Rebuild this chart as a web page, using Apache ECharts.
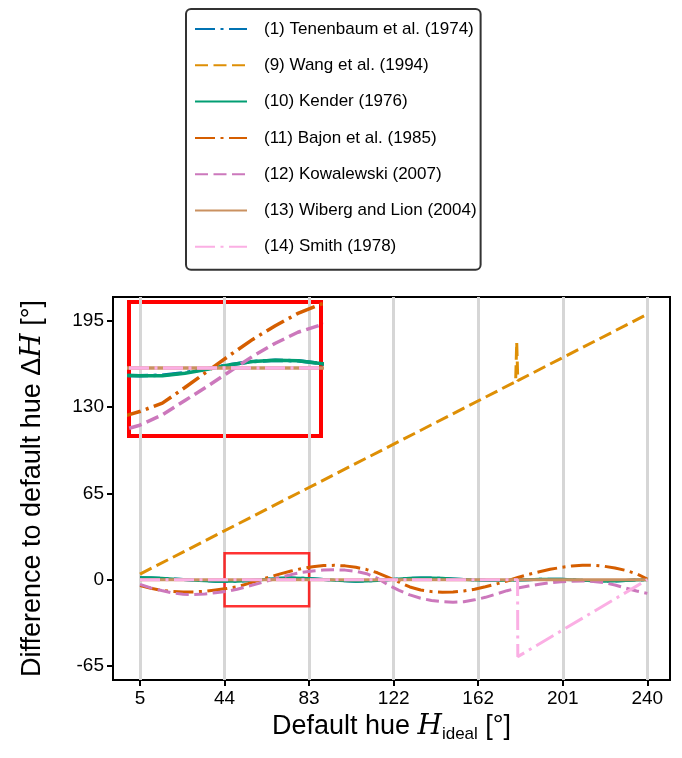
<!DOCTYPE html>
<html><head><meta charset="utf-8">
<script src="https://cdn.jsdelivr.net/npm/echarts@6/dist/echarts.min.js"></script>
<style>html,body{margin:0;padding:0;background:#fff}#c{width:682px;height:758px}</style>
</head><body><div id="c"></div>
<script>
// ---------- data ----------
const seriesNames = [
  '(1) Tenenbaum et al. (1974)',
  '(9) Wang et al. (1994)',
  '(10) Kender (1976)',
  '(11) Bajon et al. (1985)',
  '(12) Kowalewski (2007)',
  '(13) Wiberg and Lion (2004)',
  '(14) Smith (1978)'
];
const xTickValues = [5, 44.17, 83.33, 122.5, 161.67, 200.83, 240];
const xTickLabels = ['5', '44', '83', '122', '162', '201', '240'];
const yTickValues = [-65, 0, 65, 130, 195];
const yTickLabels = ['-65', '0', '65', '130', '195'];

const hueX = [5, 10, 15, 20, 25, 30, 35, 40, 45, 50, 55, 60, 65, 70, 75, 80, 85, 90, 95, 100,
  105, 110, 115, 120, 125, 130, 135, 140, 145, 150, 155, 160, 165, 170, 175, 180, 185, 190, 195, 200,
  205, 210, 215, 220, 225, 230, 235, 240];
const tenenbaumY = [1.4, 1.3, 1.0, 0.6, 0.1, -0.4, -0.8, -1.1, -1.2, -1.1, -0.7, -0.1, 0.5, 1.0, 1.2, 1.1, 0.7, 0.1, -0.5, -0.9,
  -1.1, -1.0, -0.6, 0.0, 0.6, 1.0, 1.2, 1.2, 1.0, 0.6, 0.2, -0.2, -0.5, -0.6, -0.5, -0.3, 0.0, 0.3, 0.4, 0.3,
  0.0, -0.5, -0.9, -1.1, -1.0, -0.7, -0.3, 0.0];
const kenderY = [1.5, 1.4, 1.1, 0.6, 0.1, -0.4, -0.8, -1.1, -1.2, -1.2, -0.8, -0.2, 0.5, 1.0, 1.2, 1.1, 0.7, 0.1, -0.5, -0.9,
  -1.1, -1.0, -0.6, 0.0, 0.6, 1.0, 1.2, 1.2, 1.0, 0.6, 0.2, -0.2, -0.5, -0.6, -0.5, -0.3, 0.0, 0.3, 0.4, 0.3,
  0.0, -0.5, -0.9, -1.1, -1.0, -0.7, -0.3, 0.0];
const bajonY = [-4.5, -6.5, -8.0, -8.8, -9.2, -9.2, -8.7, -7.7, -6.7, -5.4, -3.0, -0.5, 2.0, 4.4, 6.5, 8.4, 9.8, 10.6, 10.8, 10.4,
  9.3, 7.6, 5.2, 1.8, -1.8, -5.5, -7.8, -9.0, -9.5, -9.3, -8.5, -7.2, -5.3, -3.3, -1.0, 1.6, 4.0, 6.0, 7.8, 9.2,
  10.3, 10.9, 10.8, 10.1, 8.8, 7.0, 4.4, 0.5];
const kowalewskiY = [-3.5, -6.2, -8.2, -10.0, -11.0, -11.2, -10.8, -9.8, -8.8, -7.2, -5.0, -2.8, -0.5, 1.8, 3.8, 5.5, 6.6, 7.2, 7.4, 7.2,
  6.3, 4.5, 1.0, -4.0, -8.0, -11.5, -14.0, -15.7, -16.6, -17.0, -16.6, -15.2, -13.3, -10.8, -8.3, -6.3, -4.8, -3.5, -2.3, -1.5,
  -1.1, -1.0, -1.3, -2.3, -4.0, -6.3, -8.5, -10.3];
const wangX = [5, 179, 179.5, 180, 240];
const wangY = [4.2, 149.2, 179, 150.0, 200];
const wibergX = [5, 240];
const wibergY = [0, 0];
const smithX = [5, 179.9, 180, 240];
const smithY = [0, 0, -58, 0];
const zoomX = [44.17, 83.33];
const zoomY = [-20, 20];

// ---------- styling ----------
const FONT = 'Liberation Sans';
const colors = ['#0173B2', '#DE8F05', '#029E73', '#D55E00', '#CC78BC', '#CA9161', '#FBAFE4'];
const DASHED = [13, 5.5];
const DASHDOT = [20, 5.5, 3, 5.5];
const lineTypes = [DASHDOT, DASHED, 'solid', DASHDOT, DASHED, 'solid', DASHDOT];
const dataX = [hueX, wangX, hueX, hueX, hueX, wibergX, smithX];
const dataY = [tenenbaumY, wangY, kenderY, bajonY, kowalewskiY, wibergY, smithY];

function pairs(xs, ys) { return xs.map((x, i) => [x, ys[i]]); }

const series = [];
// helper series: vertical grid lines
series.push({
  type: 'line', name: '__grid', data: [[xTickValues[0], 0]], symbol: 'none',
  lineStyle: { opacity: 0 }, silent: true, z: 1,
  markLine: {
    z: 1, silent: true, symbol: ['none', 'none'], label: { show: false },
    lineStyle: { color: '#d6d6d6', width: 3, type: 'solid' },
    emphasis: { disabled: true },
    data: xTickValues.map(v => ({ xAxis: v }))
  }
});
// helper series: zoom rectangle
series.push({
  type: 'line', name: '__zoom', data: [[zoomX[0], 0]], symbol: 'none',
  lineStyle: { opacity: 0 }, silent: true, z: 2,
  markArea: {
    z: 2, silent: true,
    itemStyle: { color: 'rgba(0,0,0,0)', borderColor: 'rgba(255,0,0,0.8)', borderWidth: 2.5 },
    emphasis: { disabled: true },
    data: [[{ xAxis: zoomX[0], yAxis: zoomY[0] }, { xAxis: zoomX[1], yAxis: zoomY[1] }]]
  }
});
for (let i = 0; i < seriesNames.length; i++) {
  series.push({
    type: 'line', name: seriesNames[i], data: pairs(dataX[i], dataY[i]),
    symbol: 'none', smooth: false, z: 3 + i,
    xAxisIndex: 0, yAxisIndex: 0,
    lineStyle: { color: colors[i], width: 3, type: lineTypes[i], cap: 'butt' },
    itemStyle: { color: colors[i] },
    emphasis: { disabled: true }
  });
}
for (let i = 0; i < seriesNames.length; i++) {
  series.push({
    type: 'line', name: seriesNames[i], data: pairs(dataX[i], dataY[i]),
    symbol: 'none', z: 3 + i, clip: true,
    xAxisIndex: 1, yAxisIndex: 1,
    lineStyle: { color: colors[i], width: 3.5, type: lineTypes[i], cap: 'butt' },
    itemStyle: { color: colors[i] },
    emphasis: { disabled: true }
  });
}

const chart = echarts.init(document.getElementById('c'), null, { renderer: 'canvas' });
chart.setOption({
  animation: false,
  backgroundColor: '#fff',
  legend: {
    data: seriesNames, orient: 'vertical', left: 186, top: 9,
    padding: [10, 4, 13, 8], itemWidth: 52, itemHeight: 20, itemGap: 16.3,
    backgroundColor: '#fff', borderColor: '#333', borderWidth: 2, borderRadius: 5,
    selectedMode: false,
    itemStyle: { opacity: 0 },
    textStyle: { fontSize: 17, fontFamily: FONT, color: '#000', lineHeight: 20, padding: [0, 0, 0, 12] }
  },
  grid: [
    { left: 113, right: 12, top: 297, bottom: 78, show: true, borderColor: '#000', borderWidth: 2, backgroundColor: 'rgba(0,0,0,0)' },
    { left: 129, top: 302, width: 192, height: 134, show: true, borderColor: '#ff0000', borderWidth: 4, backgroundColor: 'rgba(0,0,0,0)' }
  ],
  xAxis: [
    {
      gridIndex: 0, type: 'value', min: -7.5, max: 250.5,
      axisLine: { show: true, onZero: false, lineStyle: { color: '#000', width: 2 } },
      axisTick: { show: true, customValues: xTickValues, length: 6, lineStyle: { color: '#000', width: 2 } },
      axisLabel: {
        customValues: xTickValues, fontSize: 19, fontFamily: FONT, color: '#000', margin: 9,
        formatter: v => xTickLabels[xTickValues.indexOf(v)] ?? ''
      },
      splitLine: { show: false },
      name: '{t|Default hue }{i|H}{s|ideal}{t| [°]}',
      nameLocation: 'middle', nameGap: 20,
      nameTextStyle: {
        rich: {
          t: { fontSize: 27, fontFamily: FONT, color: '#000', lineHeight: 32 },
          i: { fontSize: 28, fontFamily: 'DejaVu Serif', fontStyle: 'italic', color: '#000', lineHeight: 32 },
          s: { fontSize: 17, fontFamily: FONT, color: '#000', verticalAlign: 'bottom', lineHeight: 18 }
        }
      }
    },
    { gridIndex: 1, type: 'value', min: 42.62, max: 85.11, show: false }
  ],
  yAxis: [
    {
      gridIndex: 0, type: 'value', min: -75.6, max: 213,
      axisLine: { show: true, onZero: false, lineStyle: { color: '#000', width: 2 } },
      axisTick: { show: true, customValues: yTickValues, length: 6, lineStyle: { color: '#000', width: 2 } },
      axisLabel: {
        customValues: yTickValues, fontSize: 19, fontFamily: FONT, color: '#000', margin: 9,
        formatter: v => yTickLabels[yTickValues.indexOf(v)] ?? ''
      },
      splitLine: { show: false },
      name: '{t|Difference to default hue Δ}{i|H}{t| [°]}',
      nameLocation: 'middle', nameGap: 66, nameRotate: 90,
      nameTextStyle: {
        rich: {
          t: { fontSize: 27, fontFamily: FONT, color: '#000' },
          i: { fontSize: 28, fontFamily: 'DejaVu Serif', fontStyle: 'italic', color: '#000' }
        }
      }
    },
    { gridIndex: 1, type: 'value', min: -10.46, max: 10.15, show: false }
  ],
  series: series
});
</script>
</body></html>
